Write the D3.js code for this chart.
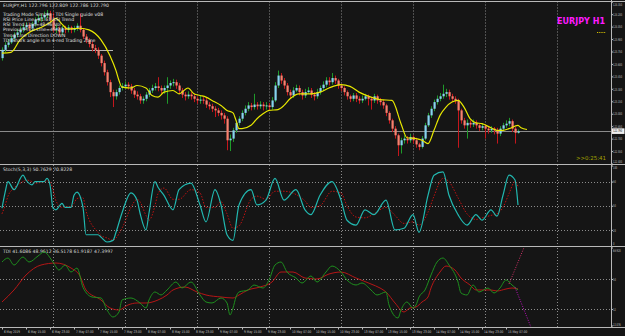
<!DOCTYPE html>
<html><head><meta charset="utf-8">
<script src="https://cdn.jsdelivr.net/npm/d3@7"></script>
<style>body{margin:0;background:#151515;overflow:hidden}svg{display:block}</style>
</head><body><svg id="c" width="625" height="336"></svg>
<script>
// ---------- DATA ----------
const firstOpen = 123.67;
const closes = [123.77,123.83,123.86,123.91,123.95,123.98,124.01,124.04,124.07,124.03,
124.08,124.13,124.15,124.16,124.19,124.21,124.13,124.01,124.03,123.98,
124.03,124.01,124.04,124.01,124.03,124.06,124.01,123.93,123.89,123.84,
123.79,123.77,123.70,123.61,123.50,123.38,123.26,123.21,123.26,123.31,
123.33,123.35,123.33,123.28,123.23,123.21,123.16,123.18,123.23,123.28,
123.31,123.33,123.31,123.28,123.31,123.34,123.37,123.38,123.34,123.28,
123.23,123.21,123.23,123.21,123.18,123.16,123.17,123.16,123.11,123.09,
123.06,123.04,123.01,122.98,122.94,122.68,122.70,122.80,122.89,122.94,
123.01,123.06,123.10,123.08,123.11,123.09,123.11,123.09,123.10,123.08,
123.16,123.34,123.46,123.40,123.34,123.26,123.22,123.28,123.31,123.26,
123.22,123.26,123.28,123.23,123.21,123.26,123.31,123.35,123.40,123.38,
123.43,123.40,123.34,123.31,123.26,123.21,123.18,123.22,123.18,123.16,
123.18,123.21,123.18,123.16,123.21,123.16,123.14,123.10,123.01,122.92,
122.82,122.74,122.62,122.68,122.70,122.68,122.72,122.68,122.63,122.60,
122.70,122.86,122.98,123.06,123.14,123.18,123.21,123.24,123.26,123.21,
123.18,123.16,123.04,122.92,122.86,122.89,122.87,122.89,122.86,122.83,
122.85,122.82,122.80,122.82,122.80,122.76,122.82,122.86,122.88,122.91,
122.82,122.77,122.79];
const highs = [123.80,123.86,123.90,123.94,123.98,124.02,124.05,124.08,124.10,124.09,
124.11,124.16,124.19,124.20,124.23,124.25,124.24,124.22,124.07,124.05,
124.06,124.06,124.07,124.06,124.06,124.09,124.21,124.03,123.96,123.91,
123.87,123.83,123.80,123.72,123.64,123.53,123.41,123.29,123.29,123.34,
123.37,123.39,123.38,123.36,123.31,123.27,123.24,123.21,123.26,123.31,
123.35,123.37,123.44,123.34,123.34,123.44,123.40,123.42,123.41,123.37,
123.31,123.26,123.27,123.26,123.24,123.21,123.22,123.20,123.19,123.14,
123.12,123.09,123.07,123.04,123.01,122.97,122.75,122.83,122.92,122.97,
123.04,123.10,123.14,123.13,123.24,123.14,123.15,123.14,123.14,123.13,
123.20,123.38,123.52,123.49,123.43,123.37,123.29,123.32,123.35,123.34,
123.29,123.30,123.32,123.31,123.26,123.30,123.34,123.39,123.44,123.44,
123.49,123.46,123.42,123.36,123.33,123.28,123.23,123.25,123.25,123.21,
123.22,123.24,123.23,123.20,123.24,123.23,123.19,123.17,123.12,123.03,
122.94,122.85,122.76,122.71,122.74,122.73,122.76,122.74,122.71,122.65,
122.73,122.89,123.01,123.09,123.17,123.22,123.25,123.35,123.30,123.29,
123.24,123.21,123.18,123.06,122.95,122.93,122.92,122.93,122.92,122.88,
122.88,122.87,122.84,122.85,122.84,122.83,122.85,122.89,122.92,122.95,
122.93,122.84,122.81];
const lows = [123.64,123.74,123.80,123.84,123.88,123.92,123.95,123.98,124.01,123.99,
124.00,124.05,124.10,124.11,124.13,124.15,124.10,123.98,123.97,123.94,
123.95,123.97,123.98,123.97,123.98,124.00,123.98,123.90,123.85,123.80,
123.75,123.73,123.66,123.57,123.46,123.34,123.20,123.08,123.17,123.23,
123.28,123.30,123.29,123.24,123.19,123.17,123.12,123.12,123.15,123.20,
123.25,123.28,123.27,123.24,123.24,123.12,123.30,123.33,123.30,123.24,
123.19,123.16,123.18,123.17,123.14,123.12,123.12,123.12,123.07,123.05,
123.02,122.96,122.97,122.93,122.88,122.56,122.55,122.66,122.77,122.86,
122.91,122.98,123.03,123.04,123.05,123.05,123.06,123.04,123.05,123.04,
123.05,123.14,123.31,123.36,123.30,123.22,123.18,123.19,123.26,123.22,
123.17,123.19,123.24,123.19,123.16,123.18,123.23,123.28,123.32,123.34,
123.35,123.36,123.30,123.27,123.22,123.17,123.14,123.15,123.14,123.12,
123.13,123.16,123.10,123.05,123.13,123.12,123.10,123.06,122.97,122.88,
122.78,122.70,122.49,122.52,122.64,122.64,122.65,122.64,122.59,122.56,
122.58,122.68,122.84,122.95,123.03,123.11,123.15,123.18,123.20,123.17,
123.14,123.12,122.59,122.88,122.82,122.70,122.83,122.84,122.82,122.79,
122.80,122.70,122.76,122.77,122.75,122.64,122.73,122.79,122.83,122.85,
122.78,122.64,122.76];

const maBars = [0,3,6,9,13,16,18,20,22,26,29,33,36,38,39,40,43,45,48,50,52,54,57,59,62,64,66,68,70,73,75,77,78,79,80,83,85,87,89,92,94,96,99,103,106,109,113,116,119,123,126,130,133,135,138,140,142,144,146,148,150,152,154,156,158,160,163,165,167,169,172,173,175];
const maValues = [123.73,123.74,123.89,123.98,124.04,124.10,124.15,124.08,124.02,124.03,124.01,123.89,123.70,123.52,123.40,123.32,123.31,123.34,123.31,123.22,123.20,123.26,123.28,123.24,123.31,123.24,123.22,123.20,123.16,123.10,123.04,123.01,122.92,122.82,122.82,122.86,122.94,123.00,123.04,123.05,123.10,123.18,123.24,123.24,123.26,123.31,123.35,123.33,123.26,123.20,123.17,123.16,122.88,122.71,122.70,122.68,122.64,122.80,122.98,123.08,123.14,123.16,123.08,122.94,122.89,122.88,122.83,122.80,122.80,122.82,122.86,122.83,122.81];

const stochBars = [0,1,2,4,7,8,10,11,14,15,16,17,18,20,21,23,24,25,27,28,32,33,35,37,38,40,43,45,46,48,49,51,52,54,57,59,63,66,68,71,73,75,77,79,83,85,88,91,94,98,101,103,106,110,113,115,118,121,124,128,131,134,137,139,142,144,147,149,152,155,158,160,163,165,167,169,171,172];
const stochMain = [47,66,80,70,88,82,76,80,80,84,76,47,45,53,48,48,63,67,48,14,14,11,5,7,17,41,66,57,41,20,41,80,73,63,45,70,78,51,30,70,51,14,7,51,70,51,57,84,57,70,45,39,63,80,57,32,26,45,39,57,20,22,39,17,63,88,92,63,39,26,39,32,45,37,63,88,82,51];
const stochSignal = [40,50,62,72,80,82,80,78,80,81,80,70,56,48,49,49,53,59,60,44,17,13,10,7,10,22,48,58,55,38,32,50,65,72,58,58,70,66,48,48,55,40,22,25,58,62,58,68,68,64,56,48,50,68,66,50,36,35,40,48,38,28,30,26,42,62,84,80,60,40,33,35,38,40,48,65,80,74];
const stochLevels = [80,50,20];
const stochTicks = [100,80,50,20,0];

const tdiGreenBars = [0,2,4,7,9,12,14,17,19,21,23,25,27,30,33,35,37,39,40,43,46,48,49,51,53,55,58,60,63,66,68,70,73,75,76,77,78,79,82,84,87,89,91,93,95,98,100,103,105,108,110,113,115,118,120,123,125,128,129,132,133,135,137,138,139,141,143,145,147,149,152,153,155,157,159,162,164,166,168,170,172];
const tdiGreen = [60.2,62.6,58.4,63.2,60.2,63.8,66.2,60.2,55.4,58.4,54.2,56.6,45.0,39.2,38.6,31.4,27.2,30.2,37.4,38.6,35.6,32.6,37.4,42.2,40.4,43.4,48.2,44.6,48.2,40.4,36.2,35.6,38.6,35.6,28.4,32.6,39.2,42.2,43.4,46.4,44.6,49.4,58.4,60.2,54.2,50.6,47.6,51.8,48.2,54.2,57.8,54.2,49.4,46.4,47.6,43.4,40.4,42.2,34.4,26.6,31.4,36.2,32.6,34.4,39.2,43.4,52.4,60.2,62.6,58.4,48.2,41.6,40.4,46.4,42.2,44.6,41.6,44.6,49.4,46.4,43.4];
const tdiRedBars = [0,4,8,13,18,23,26,28,33,36,39,42,45,48,52,55,57,61,65,68,73,77,79,82,86,90,93,97,101,105,109,113,118,123,126,128,131,134,136,138,140,142,143,146,148,151,153,156,158,163,165,168,170,172];
const tdiRed = [36.2,43.4,52.4,58.4,59.6,56.6,51.8,43.4,37.4,32.6,31.4,34.4,35.6,35.6,37.4,40.4,43.4,45.2,42.2,40.4,39.2,38.6,40.4,43.4,45.2,48.2,54.2,54.2,50.6,50.0,53.0,54.2,50.6,47.0,44.6,42.2,35.6,30.2,32.6,33.2,36.2,39.2,44.6,54.2,57.8,55.4,50.6,46.4,43.4,43.4,42.8,44.0,44.6,44.0];
const projUpBars = [169,174], projUpValues = [47,68.9];
const projDownBars = [171,177], projDownValues = [45,18];
const tdiLevels = [50,32];
const tdiTicks = [68.92,50,32,22.08];
const tdiTickLabels = ["68.920","50","32","22.076"];

const priceTicks = [124.35,124.20,124.05,123.90,123.75,123.60,123.45,123.30,123.15,123.00,122.85,122.70,122.55,122.40];
const bidPrice = 122.79;
const objLine = {price:123.77, from:0, to:37};
const dayStartBars = [17,41,65,89,113,137,161,185];
const timeBars = [0,8,16,24,32,40,48,56,64,72,80,88,96,104,112,120,128,136,144,152,160,168];
const timeLabels = ["6 May 2019","6 May 15:00","6 May 23:00","7 May 07:00","7 May 15:00","7 May 23:00","8 May 07:00","8 May 15:00","8 May 23:00","9 May 07:00","9 May 15:00","9 May 23:00","10 May 07:00","10 May 15:00","10 May 23:00","13 May 07:00","13 May 15:00","13 May 23:00","14 May 07:00","14 May 15:00","14 May 23:00","15 May 07:00"];
const infoLines = ["Trading Mode Simple - TDI Single guide v08","RSI Price Line=41.61 RSI Trend","RSI Trend Line=48.96 Vol","Previous Price Line=45.27","Trend Line Direction DOWN","TDI Shark angle is in 4-red Trading Zone"];

// ---------- LAYOUT ----------
const AX = 611;
const svg = d3.select("#c");
const FONT = "'DejaVu Sans', Arial, sans-serif";
svg.append("rect").attr("width",625).attr("height",336).attr("fill","#151515");

const x = d3.scaleLinear().domain([0,203]).range([2,AX]);
const yP = d3.scaleLinear().domain([122.40,124.35]).range([163.5,1.7]);
const yS = d3.scaleLinear().domain([0,100]).range([246,165.5]);
const yT = d3.scaleLinear().domain([22.08,68.92]).range([325.5,247.5]);

const defs = svg.append("defs");
function clip(id,y0,y1){defs.append("clipPath").attr("id",id).append("rect").attr("x",0).attr("y",y0).attr("width",AX).attr("height",y1-y0);}
clip("cm",1.5,163.5); clip("cs",165,246); clip("ct",248,327);

const grid = svg.append("g");
[[1.5,163.5],[165,246],[248,327]].forEach(([a,b])=>{
  grid.selectAll(null).data(dayStartBars).enter().append("line")
    .attr("x1",d=>Math.round(x(d))+0.5).attr("x2",d=>Math.round(x(d))+0.5)
    .attr("y1",a).attr("y2",b).attr("stroke","#8c8c8c").attr("stroke-width",1).attr("stroke-dasharray","1,2");
});
svg.append("g").selectAll("line").data(stochLevels).enter().append("line")
  .attr("x1",0).attr("x2",AX).attr("y1",d=>Math.round(yS(d))+0.5).attr("y2",d=>Math.round(yS(d))+0.5)
  .attr("stroke","#8c8c8c").attr("stroke-dasharray","1,2");
svg.append("g").selectAll("line").data(tdiLevels).enter().append("line")
  .attr("x1",0).attr("x2",AX).attr("y1",d=>Math.round(yT(d))+0.5).attr("y2",d=>Math.round(yT(d))+0.5)
  .attr("stroke","#8c8c8c").attr("stroke-dasharray","1,2");

// ---------- MAIN PANEL ----------
const gm = svg.append("g").attr("clip-path","url(#cm)");
gm.append("line").attr("x1",x(objLine.from)-2).attr("x2",x(objLine.to))
  .attr("y1",Math.round(yP(objLine.price))+0.5).attr("y2",Math.round(yP(objLine.price))+0.5)
  .attr("stroke","#b4b4b4").attr("stroke-width",1);
gm.append("line").attr("x1",0).attr("x2",AX).attr("y1",Math.round(yP(bidPrice))+0.5).attr("y2",Math.round(yP(bidPrice))+0.5)
  .attr("stroke","#8a8a8a").attr("stroke-width",1);

const candles = closes.map((c,i)=>({i,o:i?closes[i-1]:firstOpen,c,h:highs[i],l:lows[i]}));
const cg = gm.append("g");
cg.selectAll("line").data(candles).enter().append("line")
  .attr("x1",d=>Math.round(x(d.i))+0.5).attr("x2",d=>Math.round(x(d.i))+0.5)
  .attr("y1",d=>yP(d.h)).attr("y2",d=>yP(d.l))
  .attr("stroke",d=>d.c>=d.o?"#1f9a2a":"#c4161c").attr("stroke-width",1);
cg.selectAll("rect").data(candles).enter().append("rect")
  .attr("x",d=>Math.round(x(d.i))-0.5).attr("width",2.2)
  .attr("y",d=>yP(Math.max(d.o,d.c)))
  .attr("height",d=>Math.max(1,Math.abs(yP(d.o)-yP(d.c))))
  .attr("fill",d=>d.c>=d.o?"#87d3ef":"#f9806e");
gm.append("path").datum(maBars.map((b,k)=>[b,maValues[k]]))
  .attr("d",d3.line().x(d=>x(d[0])).y(d=>yP(d[1])).curve(d3.curveMonotoneX))
  .attr("fill","none").attr("stroke","#e8e800").attr("stroke-width",1.2);

const tx = svg.append("g").attr("font-family",FONT);
tx.append("text").attr("x",3).attr("y",6.5).attr("font-size",4.6).attr("fill","#d8d8d8").text("EURJPY,H1  122.796 122.809 122.786 122.790");
tx.selectAll(".info").data(infoLines).enter().append("text").attr("class","info")
  .attr("x",3).attr("y",(d,k)=>k===0?15.5:21+(k-1)*5.2)
  .attr("font-size",4.6).attr("fill","#e0e0e0").text(d=>d);
tx.append("text").attr("x",557).attr("y",23.5).attr("font-size",8.5).attr("font-weight","bold")
  .attr("textLength",48).attr("lengthAdjust","spacingAndGlyphs").attr("fill","#ff1aff").text("EURJPY H1");
tx.append("line").attr("x1",597).attr("x2",606).attr("y1",32.5).attr("y2",32.5).attr("stroke","#d6c000").attr("stroke-width",1.2).attr("stroke-dasharray","1,0.8");
tx.append("text").attr("x",576).attr("y",160).attr("font-size",5.5).attr("textLength",30).attr("lengthAdjust","spacingAndGlyphs").attr("fill","#a5a500").text(">>0:25:41");

// ---------- STOCH ----------
const gs = svg.append("g").attr("clip-path","url(#cs)");
gs.append("path").datum(stochBars.map((b,k)=>[b,stochSignal[k]]))
  .attr("d",d3.line().x(d=>x(d[0])).y(d=>yS(d[1])).curve(d3.curveMonotoneX))
  .attr("fill","none").attr("stroke","#c01212").attr("stroke-width",1).attr("stroke-dasharray","1.5,1.5");
gs.append("path").datum(stochBars.map((b,k)=>[b,stochMain[k]]))
  .attr("d",d3.line().x(d=>x(d[0])).y(d=>yS(d[1])).curve(d3.curveMonotoneX))
  .attr("fill","none").attr("stroke","#22b8b0").attr("stroke-width",1.2);
tx.append("text").attr("x",3).attr("y",170.5).attr("font-size",4.6).attr("fill","#d8d8d8").text("Stoch(5,3,3) 50.7629 70.8228");

// ---------- TDI ----------
const gt = svg.append("g").attr("clip-path","url(#ct)");
gt.append("path").datum(tdiRedBars.map((b,k)=>[b,tdiRed[k]]))
  .attr("d",d3.line().x(d=>x(d[0])).y(d=>yT(d[1])).curve(d3.curveMonotoneX))
  .attr("fill","none").attr("stroke","#b51616").attr("stroke-width",1);
gt.append("path").datum(tdiGreenBars.map((b,k)=>[b,tdiGreen[k]]))
  .attr("d",d3.line().x(d=>x(d[0])).y(d=>yT(d[1])).curve(d3.curveMonotoneX))
  .attr("fill","none").attr("stroke","#1e8f1e").attr("stroke-width",1);
gt.append("path").datum(projUpBars.map((b,k)=>[b,projUpValues[k]]))
  .attr("d",d3.line().x(d=>x(d[0])).y(d=>yT(d[1])))
  .attr("fill","none").attr("stroke","#d8306a").attr("stroke-width",1).attr("stroke-dasharray","1,1.5");
gt.append("path").datum(projDownBars.map((b,k)=>[b,projDownValues[k]]))
  .attr("d",d3.line().x(d=>x(d[0])).y(d=>yT(d[1])))
  .attr("fill","none").attr("stroke","#c010c0").attr("stroke-width",1).attr("stroke-dasharray","1,1.5");
tx.append("text").attr("x",3).attr("y",252.5).attr("font-size",4.6).attr("fill","#d8d8d8").text("TDI 41.6086 48.9612 36.5178 61.9187 47.3997");

// ---------- FRAMES ----------
const fr = svg.append("g").attr("stroke","#b8b8b8").attr("stroke-width",1);
[1.5,164.5,246.5,327.5].forEach(y=>fr.append("line").attr("x1",0).attr("x2",625).attr("y1",y).attr("y2",y));
fr.append("line").attr("x1",AX+0.5).attr("x2",AX+0.5).attr("y1",0).attr("y2",328);

// ---------- AXES ----------
const SX = 0.58;
function styleAxis(g, nudge){
  g.select(".domain").remove();
  g.selectAll(".tick line").attr("stroke","#b8b8b8");
  g.selectAll(".tick text").attr("fill","#c8c8c8").attr("font-size",3.8).attr("font-family",FONT)
    .attr("x",2/SX).attr("transform",`scale(${SX},1)`)
    .attr("dy",d=> (nudge && nudge(d)) ? nudge(d) : "0.32em");
}
svg.append("g").attr("transform",`translate(${AX},0)`)
  .call(d3.axisRight(yP).tickValues(priceTicks).tickFormat(d3.format(".3f")).tickSize(2))
  .call(g=>styleAxis(g, d=> d===124.35? "0.9em" : d===122.40 ? "-0.2em" : null));
svg.append("g").attr("transform",`translate(${AX},0)`)
  .call(d3.axisRight(yS).tickValues(stochTicks).tickFormat(d3.format("d")).tickSize(2))
  .call(g=>styleAxis(g, d=> d===100? "0.9em" : d===0 ? "-0.3em" : null));
svg.append("g").attr("transform",`translate(${AX},0)`)
  .call(d3.axisRight(yT).tickValues(tdiTicks).tickFormat((d,k)=>tdiTickLabels[k]).tickSize(2))
  .call(g=>styleAxis(g, d=> d===68.92? "1.0em" : d===22.08 ? "0.1em" : null));
const by = yP(bidPrice);
svg.append("rect").attr("x",AX+1).attr("y",by-2.8).attr("width",12.5).attr("height",5.6).attr("fill","#f0f0f0");
svg.append("text").attr("transform",`translate(${AX+2},${by+1.3}) scale(${SX},1)`).attr("font-size",3.8).attr("font-family",FONT)
  .attr("fill","#000").text(d3.format(".3f")(bidPrice));

// time axis
const ta = svg.append("g").attr("transform","translate(0,327.5)")
  .call(d3.axisBottom(x).tickValues(timeBars).tickFormat((d,k)=>timeLabels[k]).tickSize(2));
ta.select(".domain").remove();
ta.selectAll(".tick line").attr("stroke","#b8b8b8");
ta.selectAll(".tick text").attr("fill","#c8c8c8").attr("font-size",3.6).attr("font-family",FONT)
  .attr("text-anchor","start").attr("x",1.5).attr("y",3)
  .each(function(){ this.setAttribute("textLength", this.textContent.length*1.6); this.setAttribute("lengthAdjust","spacingAndGlyphs"); });
</script></body></html>
